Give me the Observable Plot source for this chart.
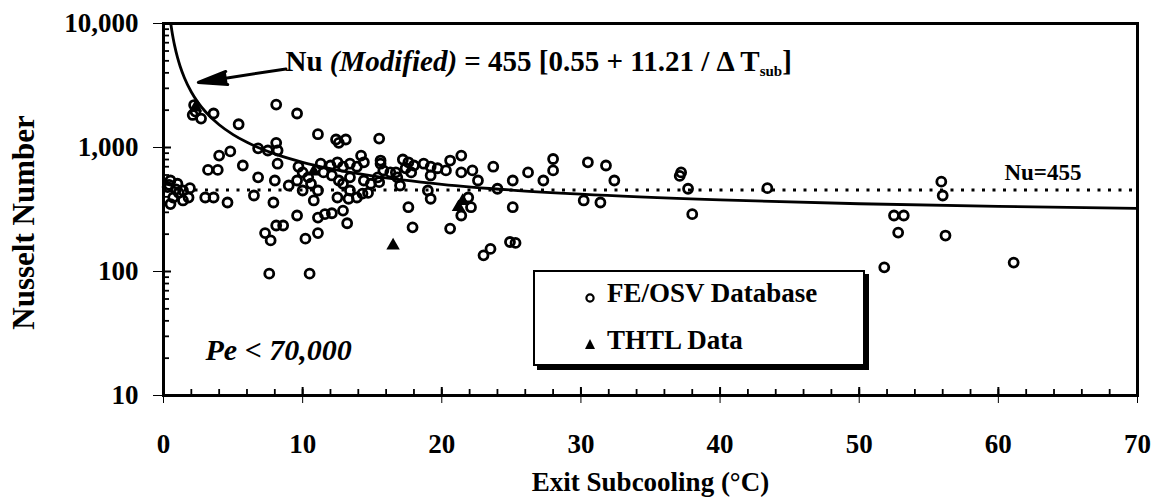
<!DOCTYPE html>
<html>
<head>
<meta charset="utf-8">
<script src="https://cdn.jsdelivr.net/npm/d3@7"></script>
<script src="https://cdn.jsdelivr.net/npm/@observablehq/plot@0.6"></script>
<style>
  html, body { margin: 0; padding: 0; background: #fff; }
  #wrap { position: relative; width: 1163px; height: 502px; overflow: hidden; }
  #legend { position: absolute; left: 533px; top: 270px; width: 332px; height: 96px;
    border: 2.5px solid #000; box-shadow: 4px 4px 0 #000; background: #fff; box-sizing: border-box;
    font-family: "Liberation Serif", serif; font-weight: bold; font-size: 27px; color: #000; }
  .row { position: absolute; left: 46px; line-height: 27px; white-space: nowrap; }
  .row svg { vertical-align: middle; margin-right: 8px; }
</style>
</head>
<body>
<div id="wrap">
  <div id="chart"></div>
  <div id="legend">
    <div class="row" style="top:8px"><svg width="18" height="18" viewBox="0 0 18 18"><circle cx="9" cy="11" r="3.6" fill="none" stroke="#000" stroke-width="2.2"/></svg>FE/OSV Database</div>
    <div class="row" style="top:55px"><svg width="18" height="18" viewBox="0 0 18 18"><path d="M9 5 L14 15 L4 15 Z" fill="#000"/></svg>THTL Data</div>
  </div>
</div>
<script>
// ---- data ----
const xTicks = [0, 10, 20, 30, 40, 50, 60, 70];
const yTicks = [10, 100, 1000, 10000];

// FE/OSV Database (exit subcooling °C, Nusselt number)
const feX = [0.3,0.4,0.5,0.5,0.7,0.9,1.0,1.1,1.4,1.4,1.8,1.9,
  2.1,2.2,2.3,2.7,3.6,3.0,3.6,4.6,3.2,3.9,4.0,4.8,
  5.4,5.7,6.8,7.5,8.1,8.2,6.8,8.0,8.2,9.0,6.5,7.9,9.6,7.3,7.7,8.1,8.6,10.2,11.1,7.6,10.5,
  13.2,12.9,13.3,11.1,11.6,12.1,14.3,14.7,15.5,14.2,15.6,8.1,9.6,11.1,12.4,13.1,12.6,15.5,
  10.0,9.7,10.4,9.6,10.6,11.1,10.0,10.8,11.3,12.0,12.5,12.9,13.4,11.5,12.1,12.6,13.4,
  13.9,14.4,15.6,15.8,16.3,16.8,15.4,14.9,14.4,12.9,13.4,12.5,13.9,
  17.2,17.6,18.0,16.7,17.4,17.8,18.7,19.2,19.7,20.3,20.6,21.4,19.2,21.4,22.2,22.6,
  17.0,19.0,19.2,17.6,17.9,20.6,21.9,21.4,22.1,23.7,24.0,25.1,23.0,23.5,24.9,25.3,
  25.1,26.2,27.3,28.0,28.0,30.5,31.8,32.4,30.2,31.4,
  37.2,37.1,37.7,38.0,43.4,
  52.5,53.2,52.8,51.8,55.9,56.0,56.2,61.1];
const feNu = [480,500,542,350,395,460,510,430,450,374,395,470,
  1830,2200,1950,1710,1880,395,395,360,660,660,860,930,
  1540,716,985,946,1090,946,575,542,740,494,410,360,283,204,178,235,235,184,204,96,96,
  245,310,386,272,290,295,425,430,525,860,785,2220,1880,1280,1160,1160,1090,1180,
  630,700,575,542,510,450,450,374,740,716,760,700,740,630,595,542,575,
  700,760,740,653,630,575,575,510,542,510,450,395,395,
  800,760,716,630,680,630,740,700,680,653,785,860,595,630,653,542,
  494,450,386,330,227,222,395,283,330,700,465,330,135,152,173,170,
  542,630,542,808,653,760,716,542,374,360,
  630,590,465,290,470,
  283,283,206,108,530,410,195,118];

// THTL Data
const thtlX = [2.3, 10.8, 16.5, 21.2, 21.5];
const thtlNu = [2100, 640, 162, 330, 370];

// Modified correlation curve
const curveX = [0.53, 0.6, 0.7, 0.8, 1, 1.2, 1.5, 2, 2.5, 3, 4, 5, 6, 8, 10, 12, 15, 20, 25, 30, 40, 50, 60, 70];
const curveNu = [9874, 8751, 7537, 6626, 5351, 4501, 3651, 2801, 2290, 1950, 1525, 1270, 1100, 888, 760, 675, 590, 505, 454, 420, 378, 352, 335, 323];

const nuConst = [455];

// ---- tables ----
const fe = feX.map((x, i) => ({x, y: feNu[i]}));
const thtl = thtlX.map((x, i) => ({x, y: thtlNu[i]}));
const curve = curveX.map((x, i) => ({x, y: curveNu[i]}));

const xMinor = d3.range(0, 71, 2);
const yMinor = yTicks.slice(0, -1).flatMap(k => d3.range(2, 10).map(m => k * m));

const W = 1163, H = 502;
const mL = 163, mR = 26, mT = 23, mB = 107;
const fw = W - mL - mR, fh = H - mT - mB;

const font = "'Liberation Serif', 'Times New Roman', serif";

const plot = Plot.plot({
  width: W, height: H,
  marginLeft: mL, marginRight: mR, marginTop: mT, marginBottom: mB,
  style: {fontFamily: font, fontSize: "27px", fontWeight: "bold", background: "#fff", color: "#000", overflow: "visible"},
  x: {domain: [0, 70], ticks: xTicks, tickSize: 8, tickPadding: 30, label: null},
  y: {type: "log", domain: [10, 10000], ticks: yTicks, tickFormat: d3.format(","), tickSize: 10, tickPadding: 15, label: null},
  marks: [
    // inward ticks
    Plot.tickX(xTicks, {x: d => d, insetTop: fh - 8, strokeWidth: 2}),
    Plot.tickX(xMinor, {x: d => d, insetTop: fh - 6, strokeWidth: 1.8}),
    Plot.tickY(yTicks, {y: d => d, insetRight: fw - 8, strokeWidth: 2}),
    Plot.tickY(yMinor, {y: d => d, insetRight: fw - 6, strokeWidth: 1.8}),
    // reference line Nu = 455
    Plot.ruleY(nuConst, {y: d => d, strokeWidth: 3, strokeDasharray: "3,7.5"}),
    Plot.text(nuConst, {x: 63.2, y: d => d, text: d => "Nu=455", dy: -17, fontSize: 23, fontWeight: "bold"}),
    // correlation curve
    Plot.line(curve, {x: "x", y: "y", strokeWidth: 2.8, curve: "monotone-x", clip: true}),
    // data
    Plot.dot(fe, {x: "x", y: "y", r: 4.5, stroke: "#000", strokeWidth: 2.8, fill: "none"}),
    Plot.dot(thtl, {x: "x", y: "y", r: 5, symbol: "triangle", fill: "#000", stroke: "none"}),
    // annotation
    Plot.arrow([{x1: 8.8, y1: 4300, x2: 2.5, y2: 3350}], {x1: "x1", y1: "y1", x2: "x2", y2: "y2", stroke: "#000", strokeWidth: 3, headLength: 15, headAngle: 26, fill: "#000"}),
    Plot.text(["Nu (Modified) = 455 [0.55 + 11.21 / \u0394 Tsub]"], {frameAnchor: "top-left", textAnchor: "start", lineAnchor: "middle", dx: 122, dy: 38, fontSize: 29, fontWeight: "bold", text: d => d}),
    Plot.text(["Pe < 70,000"], {frameAnchor: "bottom-left", textAnchor: "start", lineAnchor: "middle", dx: 42, dy: -45, fontSize: 30, fontWeight: "bold", fontStyle: "italic", text: d => d}),
    // axis titles
    Plot.text(["Nusselt Number"], {frameAnchor: "left", textAnchor: "middle", lineAnchor: "middle", rotate: -90, dx: -139, dy: 13, fontSize: 31, fontWeight: "bold", text: d => d}),
    Plot.text(["Exit Subcooling (\u00B0C)"], {frameAnchor: "bottom", textAnchor: "middle", lineAnchor: "middle", dy: 87, fontSize: 27, fontWeight: "bold", text: d => d}),
    Plot.frame({strokeWidth: 3})
  ]
});

document.getElementById("chart").appendChild(plot);

// rich formatting for the equation
const eq = Array.from(plot.querySelectorAll("text")).find(t => t.textContent.startsWith("Nu (Modified)"));
if (eq) {
  eq.textContent = "";
  const s = d3.select(eq);
  s.append("tspan").text("Nu ");
  s.append("tspan").attr("font-style", "italic").text("(Modified)");
  s.append("tspan").text(" = 455 [0.55 + 11.21 / \u0394 T");
  s.append("tspan").attr("font-size", 15).attr("dy", 5).text("sub");
  s.append("tspan").attr("dy", -5).text("]");
}
</script>
</body>
</html>
